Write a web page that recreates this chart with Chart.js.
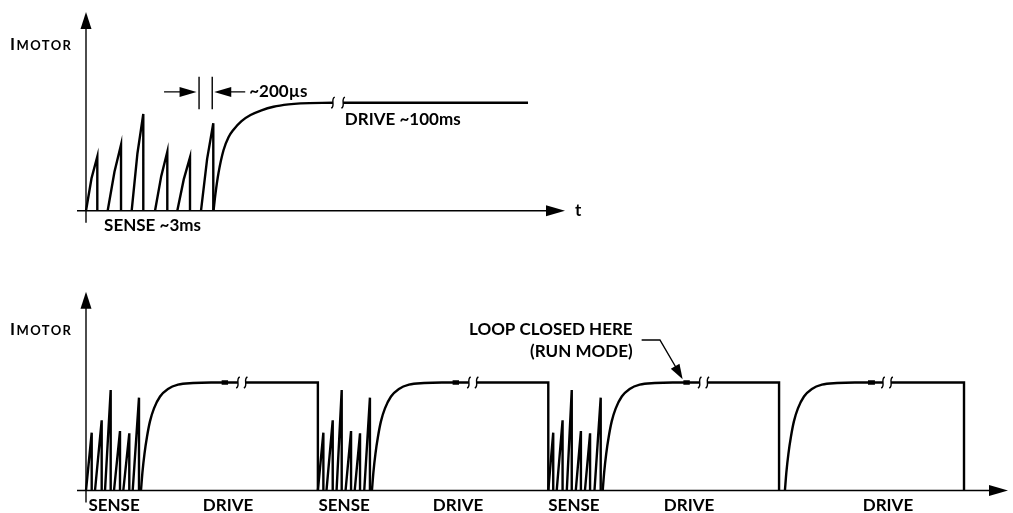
<!DOCTYPE html>
<html><head><meta charset="utf-8">
<script src="https://cdn.jsdelivr.net/npm/chart.js@4.4.0/dist/chart.umd.min.js"></script>
<style>
html,body{margin:0;padding:0;background:#fff;width:1013px;height:513px;overflow:hidden}
#wrapTop{position:absolute;left:0;top:0;width:1013px;height:250px}
#wrapBot{position:absolute;left:0;top:250px;width:1013px;height:263px}
</style></head><body>
<div id="wrapTop"><canvas id="cTop"></canvas></div>
<div id="wrapBot"><canvas id="cBot"></canvas></div>
<script>
// ================= DATA =================
// Top panel: time in ms, motor current relative to drive level (= 1)
const topPulseStart = [0, 0.51, 1.075, 1.624, 2.148, 2.706];
const topPulseMidT  = [0.13, 0.67, 1.21, 1.77, 2.30, 2.85];
const topPulseMid   = [0.30, 0.36, 0.53, 0.32, 0.29, 0.48];
const topPulsePeakT = [0.266, 0.824, 1.348, 1.913, 2.447, 2.995];
const topPulsePeak  = [0.50, 0.61, 0.895, 0.546, 0.494, 0.81];
const topRiseT  = [3.0, 3.047, 3.118, 3.235, 3.353, 3.47, 3.659, 3.871, 4.129, 4.412, 4.765, 5.047, 5.81];
const topRiseI  = [0, 0.16, 0.35, 0.56, 0.68, 0.75, 0.83, 0.886, 0.93, 0.963, 0.985, 0.994, 1.0];
const topDriveT = [6.05, 10.4];
const topDriveI = [1, 1];
const topBreakT = [5.81, 6.05];
const topTickT = [1.565];
const topTickLabels = ['SENSE ~3ms'];
const topDimT = [2.66, 2.97];          // ~200us dimension lines
const topDimI = [0.94, 1.10, 1.24];    // bottom, arrow level, top
const topDriveLabelAt = [6.09, 0.84];

// Bottom panel: time in ms (schematic), current relative to drive level
const botPulseStart = [0, 0.491, 1.037, 1.528, 2.035, 2.548,
                       12.65, 13.12, 13.67, 14.16, 14.66, 15.18,
                       25.22, 25.68, 26.23, 26.72, 27.22, 27.74];
const botPulsePeakT = [0.311, 0.856, 1.347, 1.855, 2.362, 2.891,
                       12.95, 13.46, 13.95, 14.46, 14.95, 15.49,
                       25.49, 26.0, 26.5, 27.0, 27.5, 28.08];
const botPulsePeak  = [0.535, 0.65, 0.93, 0.55, 0.53, 0.86,
                       0.535, 0.65, 0.93, 0.55, 0.53, 0.86,
                       0.535, 0.65, 0.93, 0.55, 0.53, 0.86];
const driveRiseI = [0, 0.17, 0.34, 0.50, 0.64, 0.76, 0.87, 0.94, 0.98, 0.995, 1, 1];
const drive1T = [3.0, 3.08, 3.19, 3.33, 3.49, 3.71, 4.04, 4.47, 5.02, 5.84, 6.82, 8.29];
const drive2T = [15.6, 15.68, 15.79, 15.93, 16.09, 16.31, 16.64, 17.07, 17.62, 18.44, 19.42, 20.89];
const drive3T = [28.19, 28.27, 28.38, 28.52, 28.68, 28.90, 29.23, 29.66, 30.21, 31.03, 32.01, 33.48];
const drive4T = [38.13, 38.21, 38.32, 38.46, 38.62, 38.84, 39.17, 39.60, 40.15, 40.97, 41.95, 43.48];
const driveResumeT = [8.71, 21.31, 33.90, 43.92];
const driveEndT    = [12.65, 25.22, 37.81, 47.9];
const botDashStart = [7.40, 20.0, 32.59, 42.66];
const botDashEnd   = [7.75, 20.35, 32.94, 43.04];
const botTickT = [1.53, 7.75, 14.08, 20.3, 26.62, 32.9, 43.75];
const botTickLabels = ['SENSE', 'DRIVE', 'SENSE', 'DRIVE', 'SENSE', 'DRIVE', 'DRIVE'];
const loopClosedAt = [32.55, 1.03];

// ================= BUILD =================
const FONT = 'Lato, "Open Sans", sans-serif';
const INK = '#000';

function pulsePoints(start, midT, mid, peakT, peak) {
  const pts = [];
  for (let i = 0; i < start.length; i++) {
    pts.push({x: start[i], y: 0});
    if (midT) pts.push({x: midT[i], y: mid[i]});
    pts.push({x: peakT[i], y: peak[i]});
    pts.push({x: peakT[i], y: 0});
    pts.push({x: peakT[i], y: null});
  }
  return pts;
}
function curvePoints(ts, is) { return ts.map((t, k) => ({x: t, y: is[k]})); }

const topData = {
  datasets: [
    {data: pulsePoints(topPulseStart, topPulseMidT, topPulseMid, topPulsePeakT, topPulsePeak), tension: 0},
    {data: curvePoints(topRiseT, topRiseI), cubicInterpolationMode: 'monotone'},
    {data: curvePoints(topDriveT, topDriveI), tension: 0}
  ]
};

const riseAll = [];
[drive1T, drive2T, drive3T, drive4T].forEach((arr) => {
  arr.forEach((t, k) => riseAll.push({x: t, y: driveRiseI[k]}));
  riseAll.push({x: arr[arr.length - 1], y: null});
});
const plateauAll = [];
const dashAll = [];
for (let c = 0; c < driveResumeT.length; c++) {
  plateauAll.push({x: driveResumeT[c], y: 1}, {x: driveEndT[c], y: 1}, {x: driveEndT[c], y: 0}, {x: driveEndT[c], y: null});
  dashAll.push({x: botDashStart[c], y: 1}, {x: botDashEnd[c], y: 1}, {x: botDashEnd[c], y: null});
}
const botBreaks = [];
[drive1T, drive2T, drive3T, drive4T].forEach((arr, c) => botBreaks.push(arr[arr.length - 1], driveResumeT[c]));

const botData = {
  datasets: [
    {data: pulsePoints(botPulseStart, null, null, botPulsePeakT, botPulsePeak), tension: 0},
    {data: riseAll, cubicInterpolationMode: 'monotone'},
    {data: plateauAll, tension: 0},
    {data: dashAll, tension: 0, borderWidth: 4.5, borderCapStyle: 'butt'}
  ]
};

// ================= PLUGIN (axes, breaks, annotations) =================
function squiggle(ctx, x, y) {
  ctx.beginPath();
  ctx.moveTo(x + 1.8, y - 5.5);
  ctx.bezierCurveTo(x - 2.8, y - 3.5, x + 2.8, y + 3.5, x - 1.8, y + 5.5);
  ctx.stroke();
}
function arrowHead(ctx, tx, ty, fx, fy, len, half) {
  const dx = tx - fx, dy = ty - fy, L = Math.hypot(dx, dy);
  const ux = dx / L, uy = dy / L;
  const bx = tx - ux * len, by = ty - uy * len;
  ctx.beginPath();
  ctx.moveTo(tx, ty);
  ctx.lineTo(bx - uy * half, by + ux * half);
  ctx.lineTo(bx + uy * half, by - ux * half);
  ctx.closePath();
  ctx.fill();
}
const diagram = {
  id: 'diagram',
  beforeDatasetsDraw(chart, args, o) {
    const ctx = chart.ctx, a = chart.chartArea, xs = chart.scales.x, ys = chart.scales.y;
    const x0 = xs.getPixelForValue(0), y0 = ys.getPixelForValue(0);
    ctx.save();
    ctx.strokeStyle = INK; ctx.fillStyle = INK; ctx.lineWidth = 1.4;
    ctx.beginPath(); ctx.moveTo(x0 - 9, y0); ctx.lineTo(a.right - 14, y0); ctx.stroke();
    arrowHead(ctx, a.right, y0, a.right - 20, y0, 19, 5.5);
    ctx.beginPath(); ctx.moveTo(x0, y0 + 12); ctx.lineTo(x0, a.top + 12); ctx.stroke();
    arrowHead(ctx, x0, a.top, x0, a.top + 20, 17, 5.5);
    // I MOTOR label
    const yb = ys.getPixelForValue(o.motorLabelI);
    ctx.textBaseline = 'alphabetic'; ctx.textAlign = 'left';
    ctx.font = 'bold 17px ' + FONT;
    ctx.fillText('I', 10, yb);
    ctx.font = 'bold 13px ' + FONT;
    ctx.letterSpacing = '1.4px';
    ctx.fillText('MOTOR', 16.5, yb);
    ctx.letterSpacing = '0px';
    ctx.restore();
  },
  afterDatasetsDraw(chart, args, o) {
    const ctx = chart.ctx, a = chart.chartArea, xs = chart.scales.x, ys = chart.scales.y;
    const y0 = ys.getPixelForValue(0);
    ctx.save();
    ctx.strokeStyle = INK; ctx.fillStyle = INK; ctx.lineWidth = 1.4;
    const y1 = ys.getPixelForValue(1);
    (o.breaks || []).forEach(t => squiggle(ctx, xs.getPixelForValue(t), y1));
    ctx.font = 'bold 17px ' + FONT;
    ctx.textBaseline = 'middle';
    if (o.top) {
      ctx.textAlign = 'left';
      ctx.fillText('t', a.right + 10, y0);
      // dimension marks
      const xa = xs.getPixelForValue(topDimT[0]), xb = xs.getPixelForValue(topDimT[1]);
      const yl = ys.getPixelForValue(topDimI[0]), ym = ys.getPixelForValue(topDimI[1]), yh = ys.getPixelForValue(topDimI[2]);
      ctx.beginPath();
      ctx.moveTo(xa, yl); ctx.lineTo(xa, yh);
      ctx.moveTo(xb, yl); ctx.lineTo(xb, yh);
      ctx.moveTo(xa - 35, ym); ctx.lineTo(xa - 12, ym);
      ctx.moveTo(xb + 12, ym); ctx.lineTo(xb + 33, ym);
      ctx.stroke();
      arrowHead(ctx, xa - 2.5, ym, xa - 30, ym, 17, 5);
      arrowHead(ctx, xb + 2, ym, xb + 30, ym, 17, 5);
      ctx.fillText('~200\u00b5s', xb + 37, ym);
      ctx.fillText('DRIVE ~100ms', xs.getPixelForValue(topDriveLabelAt[0]), ys.getPixelForValue(topDriveLabelAt[1]));
    } else {
      const tx = xs.getPixelForValue(loopClosedAt[0]), ty = ys.getPixelForValue(loopClosedAt[1]);
      const kx = tx - 22.7, ky = ty - 39.3;
      ctx.beginPath(); ctx.moveTo(tx - 41, ky); ctx.lineTo(kx, ky); ctx.lineTo(tx - 5, ty - 9); ctx.stroke();
      arrowHead(ctx, tx, ty, kx, ky, 15, 5);
      ctx.textAlign = 'right';
      ctx.fillText('LOOP CLOSED HERE', tx - 50, ty - 50);
      ctx.fillText('(RUN MODE)', tx - 50, ty - 27.5);
    }
    ctx.restore();
  }
};

function makeOptions(xMax, tickT, tickLabels, xAxisH, padding, extra) {
  return {
    responsive: true, maintainAspectRatio: false, animation: false, events: [],
    layout: {padding},
    elements: {
      point: {radius: 0},
      line: {borderColor: INK, borderWidth: 2.4, borderJoinStyle: 'miter', fill: false}
    },
    datasets: {line: {clip: false, spanGaps: false}},
    scales: {
      x: {
        type: 'linear', min: 0, max: xMax,
        grid: {display: false, drawTicks: false}, border: {display: false},
        afterBuildTicks: s => { s.ticks = tickT.map(v => ({value: v})); },
        afterFit: s => { s.height = xAxisH; },
        ticks: {autoSkip: false, maxRotation: 0, minRotation: 0, padding: 5, color: INK,
                font: {family: FONT, size: 17, weight: 'bold'},
                callback: (v, i) => tickLabels[i]}
      },
      y: {type: 'linear', min: 0, max: 1.84, display: false}
    },
    plugins: {legend: {display: false}, tooltip: {enabled: false}, diagram: extra}
  };
}

new Chart(document.getElementById('cTop'), {
  type: 'line', data: topData,
  options: makeOptions(11.27, topTickT, topTickLabels, 39.3,
    {left: 86, right: 448, top: 12, bottom: 0},
    {top: true, breaks: topBreakT, motorLabelI: 1.488}),
  plugins: [diagram]
});
new Chart(document.getElementById('cBot'), {
  type: 'line', data: botData,
  options: makeOptions(50.3, botTickT, botTickLabels, 22.5,
    {left: 86, right: 5, top: 41.8, bottom: 0},
    {top: false, breaks: botBreaks, motorLabelI: 1.44}),
  plugins: [diagram]
});
</script>
</body></html>
